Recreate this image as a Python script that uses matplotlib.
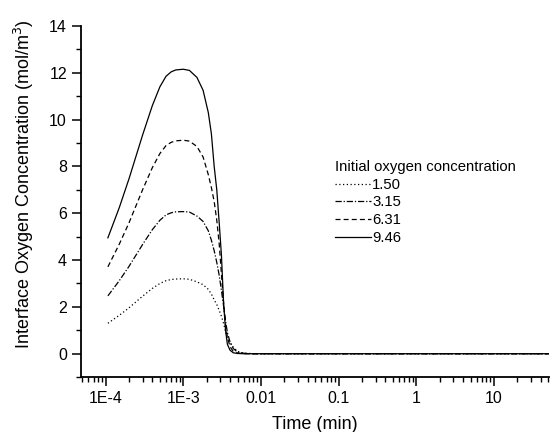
import numpy as np
import matplotlib
matplotlib.use("Agg")
import matplotlib.pyplot as plt
from matplotlib.ticker import LogLocator, NullFormatter, MultipleLocator

plt.rcParams['font.family'] = ['Liberation Sans', 'DejaVu Sans']

# time points (min)
time_min = [1.07e-4, 1.5e-4, 2e-4, 3e-4, 4e-4, 5e-4, 6e-4, 7e-4, 8e-4, 1e-3,
            1.2e-3, 1.5e-3, 1.8e-3, 2.1e-3, 2.3e-3, 2.5e-3, 2.7e-3, 2.9e-3,
            3.1e-3, 3.3e-3, 3.5e-3, 3.7e-3, 4.0e-3, 4.4e-3, 5e-3, 6e-3, 8e-3,
            1e-2, 0.1, 1, 10, 51]

# interface concentration for each initial oxygen concentration
c_150 = [1.3, 1.64, 1.96, 2.46, 2.79, 3.0, 3.12, 3.17, 3.19, 3.2,
         3.18, 3.07, 2.95, 2.75, 2.55, 2.3, 2.1, 1.85,
         1.6, 1.3, 0.95, 0.72, 0.48, 0.28, 0.1, 0.02, 0.0,
         0.0, 0.0, 0.0, 0.0, 0.0]
c_315 = [2.47, 3.12, 3.73, 4.67, 5.3, 5.7, 5.93, 6.02, 6.06, 6.07,
         6.05, 5.88, 5.65, 5.25, 4.85, 4.4, 3.9, 3.35,
         2.7, 2.05, 1.4, 0.9, 0.5, 0.22, 0.07, 0.02, 0.0,
         0.0, 0.0, 0.0, 0.0, 0.0]
c_631 = [3.71, 4.68, 5.59, 7.01, 7.95, 8.55, 8.89, 9.03, 9.09, 9.12,
         9.08, 8.85, 8.4, 7.65, 7.1, 6.5, 5.7, 4.7,
         3.4, 2.2, 1.25, 0.7, 0.3, 0.1, 0.03, 0.0, 0.0,
         0.0, 0.0, 0.0, 0.0, 0.0]
c_946 = [4.95, 6.24, 7.47, 9.35, 10.6, 11.4, 11.85, 12.04, 12.12, 12.15,
         12.1, 11.8, 11.25, 10.3, 9.4, 8.0, 7.0, 5.6,
         4.2, 2.2, 1.0, 0.4, 0.15, 0.04, 0.01, 0.0, 0.0,
         0.0, 0.0, 0.0, 0.0, 0.0]

series_labels = ["1.50", "3.15", "6.31", "9.46"]
series_styles = [(0, (1, 2)), (0, (5, 1.5, 1, 1.5)), (0, (4, 2.5)), '-']

xtick_vals = [1e-4, 1e-3, 1e-2, 1e-1, 1, 10]
xtick_labels = ["1E-4", "1E-3", "0.01", "0.1", "1", "10"]

fig = plt.figure(figsize=(5.5, 4.32), dpi=100)
ax = fig.add_axes([0.147, 0.127, 0.851, 0.813])

for vals, lab, ls in zip([c_150, c_315, c_631, c_946], series_labels, series_styles):
    ax.plot(time_min, vals, color='black', linestyle=ls, linewidth=0.9, label=lab)

ax.set_xscale('log')
ax.set_xlim(4.8e-5, 51)
ax.set_ylim(-1, 14)
ax.set_xticks(xtick_vals)
ax.set_xticklabels(xtick_labels)
ax.xaxis.set_minor_locator(LogLocator(base=10, subs=np.arange(2, 10), numticks=20))
ax.xaxis.set_minor_formatter(NullFormatter())
ax.yaxis.set_major_locator(MultipleLocator(2))
ax.yaxis.set_minor_locator(MultipleLocator(1))

ax.spines['top'].set_visible(False)
ax.spines['right'].set_visible(False)
for s in ['left', 'bottom']:
    ax.spines[s].set_linewidth(1.3)
ax.tick_params(which='major', direction='out', length=6.5, width=1.1, labelsize=11.5)
ax.tick_params(which='minor', direction='out', length=3.5, width=1.0)

ax.set_xlabel("Time (min)", fontsize=13, labelpad=7)
ax.set_ylabel("Interface Oxygen Concentration (mol/m$^3$)", fontsize=13)
ax.yaxis.set_label_coords(-0.095, 0.55)

leg = ax.legend(title="Initial oxygen concentration", frameon=False,
                loc='upper left', bbox_to_anchor=(0.53, 0.635),
                fontsize=10.7, title_fontsize=10.7, handlelength=2.4,
                handletextpad=0.1, labelspacing=0.25, borderaxespad=0,
                alignment='left')

plt.savefig("out.png", dpi=100)
